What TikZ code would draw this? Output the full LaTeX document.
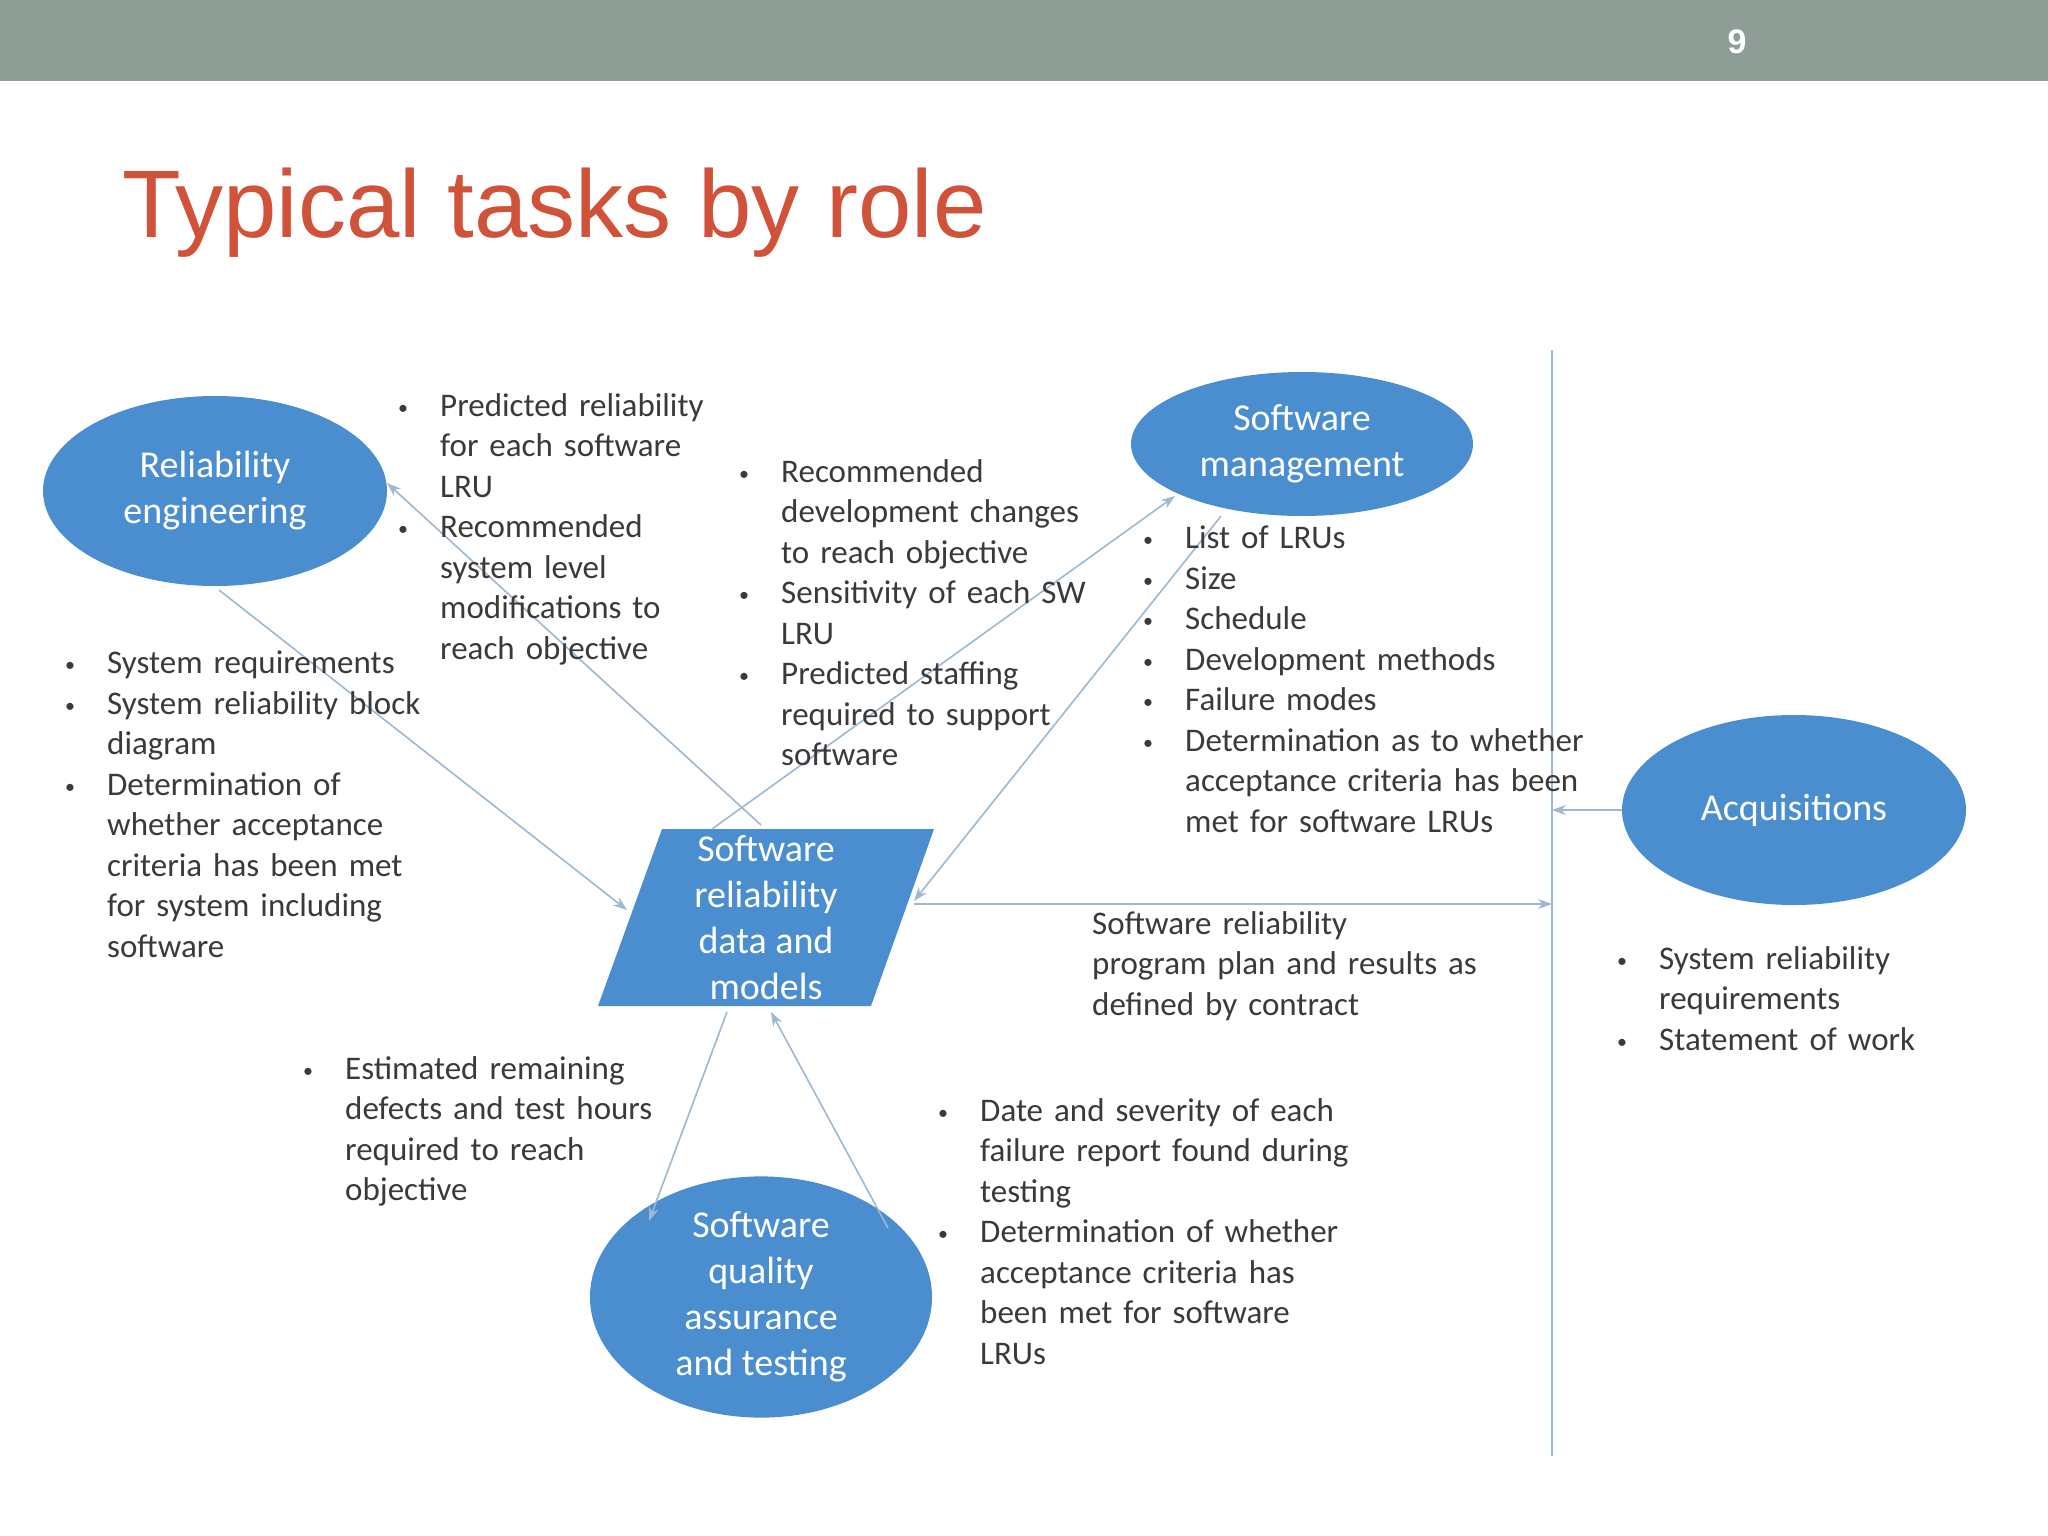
\documentclass[tikz,border=0pt]{standalone}
\usepackage{fontspec}
\setmainfont{Carlito}
\newfontfamily\hdfont{Liberation Sans}
\usetikzlibrary{shapes.geometric,arrows.meta}
\definecolor{bar}{HTML}{8E9E97}
\definecolor{ttl}{HTML}{CF5239}
\definecolor{blu}{HTML}{4A8ECF}
\definecolor{lin}{HTML}{9CB8D2}
\definecolor{txt}{HTML}{3A3A3A}
\newcommand{\bi}[1]{\noindent\makebox[42pt][l]{\raisebox{2pt}{\fontsize{20}{20}\selectfont•}}#1\par}
\newcommand{\bl}[1]{\noindent\hspace*{42pt}#1\par}
\tikzset{
 role/.style={ellipse,fill=blu,text=white,font=\fontsize{38}{46}\selectfont,align=center,inner sep=0pt},
 blk/.style={anchor=north west,text=txt,font=\fontsize{33}{40.5}\selectfont,inner sep=0pt,text width=#1},
 con/.style={draw=lin,line width=1.6pt,-{Stealth[length=14pt,width=10pt]}}
}
\begin{document}
\begin{tikzpicture}[x=1pt,y=-1pt]
\useasboundingbox (0,0) rectangle (2048,1536);
\fill[white] (0,0) rectangle (2048,1536);
\fill[bar] (0,0) rectangle (2048,81);
\node[text=white,font=\hdfont\bfseries\fontsize{34}{40}\selectfont] (pg) at (1737,42) {9};
\node[anchor=west,text=ttl,font=\hdfont\fontsize{96}{110}\selectfont,inner sep=0pt] (title) at (122,213) {Typical tasks by role};
\node[role,minimum width=344pt,minimum height=190pt] (re) at (215,491) {Reliability\\engineering};
\node[role,minimum width=342pt,minimum height=144pt] (sm) at (1302,444) {Software\\management};
\node[role,minimum width=344pt,minimum height=190pt] (aq) at (1794,810) {Acquisitions};
\node[role,minimum width=342pt,minimum height=190pt] (qa) at (761,1297) {Software\\quality\\assurance\\and testing};
\fill[blu] (662,829) -- (934,829) -- (871,1006) -- (598,1006) -- cycle;
\node[text=white,font=\fontsize{38}{46}\selectfont,align=center] (sr) at (766,918) {Software\\reliability\\data and\\models};
\coordinate (vt) at (1552,350); \coordinate (vb) at (1552,1456);
\draw[lin,line width=1.6pt] (vt) -- (vb);
\coordinate (a1) at (219,590); \coordinate (a1e) at (627,910);
\coordinate (a2) at (761,825); \coordinate (a2e) at (387,483);
\coordinate (a3) at (712,829); \coordinate (a3e) at (1175,496);
\coordinate (a4) at (1221,516); \coordinate (a4e) at (914,901);
\coordinate (a5) at (914,904); \coordinate (a5e) at (1552,904);
\coordinate (a6) at (1622,810); \coordinate (a6e) at (1552,810);
\coordinate (a7) at (727,1012); \coordinate (a7e) at (649,1221);
\coordinate (a8) at (888,1228); \coordinate (a8e) at (771,1012);
\foreach \s/\e in {a1/a1e,a2/a2e,a3/a3e,a4/a4e,a5/a5e,a6/a6e,a7/a7e,a8/a8e}{\draw[con] (\s) -- (\e);}
\node[blk=330pt] (tA) at (398,393) {\bi{Predicted reliability}\bl{for each software}\bl{LRU}\bi{Recommended}\bl{system level}\bl{modifications to}\bl{reach objective}};
\node[blk=400pt] (tB) at (739,459) {\bi{Recommended}\bl{development changes}\bl{to reach objective}\bi{Sensitivity of each SW}\bl{LRU}\bi{Predicted staffing}\bl{required to support}\bl{software}};
\node[blk=480pt] (tC) at (1143,526) {\bi{List of LRUs}\bi{Size}\bi{Schedule}\bi{Development methods}\bi{Failure modes}\bi{Determination as to whether}\bl{acceptance criteria has been}\bl{met for software LRUs}};
\node[blk=400pt] (tD) at (65,651) {\bi{System requirements}\bi{System reliability block}\bl{diagram}\bi{Determination of}\bl{whether acceptance}\bl{criteria has been met}\bl{for system including}\bl{software}};
\node[blk=400pt] (tE) at (303,1056) {\bi{Estimated remaining}\bl{defects and test hours}\bl{required to reach}\bl{objective}};
\node[blk=440pt] (tF) at (938,1098) {\bi{Date and severity of each}\bl{failure report found during}\bl{testing}\bi{Determination of whether}\bl{acceptance criteria has}\bl{been met for software}\bl{LRUs}};
\node[blk=440pt] (tG) at (1092,911) {Software reliability\\program plan and results as\\defined by contract};
\node[blk=400pt] (tH) at (1617,946) {\bi{System reliability}\bl{requirements}\bi{Statement of work}};
\end{tikzpicture}
\end{document}
